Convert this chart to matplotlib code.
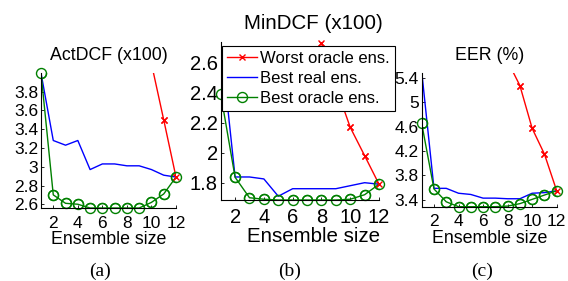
import matplotlib
matplotlib.use('Agg')
import matplotlib.pyplot as plt
from matplotlib.ticker import FormatStrFormatter
import numpy as np

plt.rcParams['font.family'] = ['Liberation Sans', 'DejaVu Sans']

sizes = [1, 2, 3, 4, 5, 6, 7, 8, 9, 10, 11, 12]

# (a) ActDCF (x100)
act_real = [4.00, 3.28, 3.23, 3.28, 2.97, 3.03, 3.03, 3.01, 3.01, 2.97, 2.91, 2.89]
act_oracle = [4.00, 2.70, 2.61, 2.60, 2.56, 2.56, 2.56, 2.56, 2.56, 2.62, 2.71, 2.89]
act_worst_x = [10, 11, 12]
act_worst = [4.10, 3.50, 2.89]

# (b) MinDCF (x100)
min_real = [2.74, 1.838, 1.838, 1.825, 1.71, 1.76, 1.76, 1.76, 1.76, 1.78, 1.80, 1.79]
min_oracle = [2.39, 1.836, 1.70, 1.69, 1.685, 1.685, 1.685, 1.685, 1.685, 1.69, 1.72, 1.79]
min_worst_x = [8, 9, 10, 11, 12]
min_worst = [2.726, 2.44, 2.168, 1.98, 1.79]

# (c) EER (%)
eer_real = [5.50, 3.59, 3.59, 3.51, 3.49, 3.43, 3.43, 3.42, 3.42, 3.51, 3.52, 3.55]
eer_oracle = [4.65, 3.58, 3.37, 3.29, 3.29, 3.29, 3.29, 3.30, 3.34, 3.41, 3.48, 3.55]
eer_worst_x = [8, 9, 10, 11, 12]
eer_worst = [5.67, 5.27, 4.57, 4.15, 3.55]

W, H = 568.0, 281.0
green = (0, 0.5, 0)


def box(left, top, right, bottom):
    return [left / W, (H - bottom) / H, (right - left) / W, (bottom - top) / H]


def draw_panel(ax, real, oracle, worst_x, worst, ylim, yticks, title, fs, xc=0.5):
    lw = 1.0
    h1, = ax.plot(worst_x, worst, color='r', lw=lw, marker='x', ms=4, mew=1)
    h2, = ax.plot(sizes, real, color='b', lw=lw)
    h3, = ax.plot(sizes, oracle, color=green, lw=lw, marker='o', ms=7.2,
                  mfc='none', mew=1)
    ax.set_xlim(1, 12)
    ax.set_ylim(ylim)

    # markers are not clipped at the axes edges (only the lines are)
    for xs, ys, m, c, ms in [(worst_x, worst, 'x', 'r', 4),
                             (sizes, oracle, 'o', green, 7.2)]:
        xs = np.array(xs)
        ys = np.array(ys)
        keep = (ys >= ylim[0] - 1e-9) & (ys <= ylim[1] + 1e-9)
        ax.plot(xs[keep], ys[keep], ls='none', marker=m, ms=ms, mfc='none',
                mec=c, mew=1, clip_on=False)

    ax.set_xticks([2, 4, 6, 8, 10, 12])
    ax.set_yticks(yticks)
    ax.yaxis.set_major_formatter(FormatStrFormatter('%g'))
    ax.spines['top'].set_visible(False)
    ax.spines['right'].set_visible(False)
    for s in ['left', 'bottom']:
        ax.spines[s].set_linewidth(0.8)
    ax.tick_params(direction='in', length=2, width=0.6, labelsize=fs)
    ax.tick_params(axis='x', pad=5.5)
    ax.tick_params(axis='y', pad=2)
    t = ax.set_title(title, fontsize=fs + 0.3, pad=9.5)
    t.set_x(xc)
    ax.set_xlabel('Ensemble size', fontsize=fs + 0.3, labelpad=0.5)
    ax.xaxis.label.set_x(xc)
    return h1, h2, h3


fig = plt.figure(figsize=(W / 100, H / 100), dpi=100)

ax_a = fig.add_axes(box(41, 73, 176, 208))
draw_panel(ax_a, act_real, act_oracle, act_worst_x, act_worst, (2.56, 4.0),
           [2.6, 2.8, 3.0, 3.2, 3.4, 3.6, 3.8], 'ActDCF (x100)', 12.5)

ax_b = fig.add_axes(box(220.7, 42, 379, 200))
handles = draw_panel(ax_b, min_real, min_oracle, min_worst_x, min_worst,
                     (1.685, 2.735), [1.8, 2.0, 2.2, 2.4, 2.6],
                     'MinDCF (x100)', 14.5, xc=0.585)

ax_c = fig.add_axes(box(421.7, 72.7, 556.7, 206.7))
draw_panel(ax_c, eer_real, eer_oracle, eer_worst_x, eer_worst, (3.29, 5.48),
           [3.4, 3.8, 4.2, 4.6, 5.0, 5.4], 'EER (%)', 12.5)

leg = fig.legend(handles, ['Worst oracle ens.', 'Best real ens.', 'Best oracle ens.'],
                 loc='upper left', bbox_to_anchor=(221.7 / W, (H - 46) / H),
                 borderaxespad=0, fontsize=12, frameon=True, fancybox=False,
                 edgecolor='black', framealpha=1, borderpad=0.3,
                 labelspacing=0.3, handlelength=1.8, handletextpad=0.2)
leg.get_frame().set_linewidth(0.8)

for label, xc in [('(a)', 100), ('(b)', 290), ('(c)', 482)]:
    fig.text(xc / W, 5.5 / H, label, ha='center', va='baseline', fontsize=14,
             family=['Liberation Serif', 'DejaVu Serif'])

fig.savefig('out.png', dpi=100)
